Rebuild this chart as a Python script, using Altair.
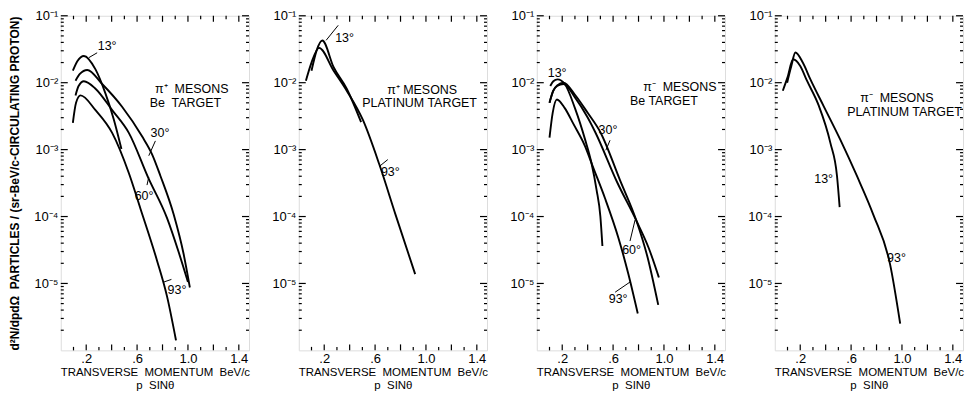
import altair as alt
import pandas as pd

FONT = "Liberation Sans"
W, H = 189, 336
X_DOMAIN = [0, 1.48]
Y_DOMAIN = [1e-6, 1e-1]

# ---------------- curve data ----------------
# Panel 1: pi+ mesons, Be target
p1_13_x = [0.095, 0.13, 0.182, 0.273, 0.351, 0.417, 0.477]
p1_13_y = [0.0151, 0.0209, 0.0251, 0.0158, 0.00692, 0.00282, 0.00102]
p1_30_x = [0.116, 0.15, 0.208, 0.325, 0.482, 0.639, 0.718, 0.783, 0.888, 0.966, 1.015]
p1_30_y = [0.0107, 0.0135, 0.0155, 0.00955, 0.00437, 0.00158, 0.000851, 0.000407, 0.000107, 2.75e-5, 8.7e-6]
p1_60_x = [0.116, 0.14, 0.182, 0.273, 0.404, 0.535, 0.69, 0.835, 0.93, 1.0]
p1_60_y = [0.00646, 0.00891, 0.0105, 0.00813, 0.00389, 0.00178, 0.000372, 9.55e-5, 2.82e-5, 1.05e-5]
p1_93_x = [0.095, 0.12, 0.155, 0.273, 0.404, 0.535, 0.626, 0.757, 0.835, 0.906]
p1_93_y = [0.00251, 0.00501, 0.00646, 0.00389, 0.00178, 0.000447, 0.000132, 2.19e-5, 6.46e-6, 1.41e-6]

# Panel 2: pi+ mesons, platinum target
p2_13_x = [0.10, 0.14, 0.185, 0.274, 0.377, 0.49]
p2_13_y = [0.0151, 0.0302, 0.0427, 0.0170, 0.00813, 0.00257]
p2_93_x = [0.056, 0.10, 0.159, 0.274, 0.377, 0.505, 0.633, 0.762, 0.915]
p2_93_y = [0.0107, 0.0200, 0.0331, 0.0151, 0.00759, 0.00275, 0.000603, 0.000105, 1.38e-5]

# Panel 3: pi- mesons, Be target
p3_13_x = [0.106, 0.13, 0.163, 0.22, 0.30, 0.38, 0.43, 0.47, 0.50, 0.516]
p3_13_y = [0.00891, 0.0105, 0.0112, 0.00955, 0.00417, 0.00141, 0.000631, 0.000251, 0.0001, 3.63e-5]
p3_30_x = [0.10, 0.13, 0.16, 0.21, 0.30, 0.40, 0.50, 0.655, 0.785, 0.87, 0.955]
p3_30_y = [0.00501, 0.00759, 0.00912, 0.0100, 0.00661, 0.00355, 0.00182, 0.000347, 8.51e-5, 2.51e-5, 4.79e-6]
p3_60_x = [0.10, 0.13, 0.16, 0.21, 0.30, 0.40, 0.46, 0.63, 0.785, 0.88, 0.96]
p3_60_y = [0.00501, 0.00759, 0.00891, 0.00955, 0.00603, 0.00302, 0.00182, 0.000331, 8.51e-5, 3.39e-5, 1.23e-5]
p3_93_x = [0.10, 0.125, 0.158, 0.22, 0.289, 0.38, 0.44, 0.537, 0.642, 0.72, 0.794]
p3_93_y = [0.00151, 0.00355, 0.00562, 0.00417, 0.0024, 0.00112, 0.000562, 0.000186, 4.79e-5, 1.38e-5, 3.55e-6]

# Panel 4: pi- mesons, platinum target
p4_13_x = [0.063, 0.10, 0.144, 0.20, 0.253, 0.345, 0.437, 0.489, 0.51]
p4_13_y = [0.00759, 0.012, 0.0224, 0.0178, 0.0107, 0.00457, 0.00126, 0.000407, 0.000138]
p4_93_x = [0.097, 0.13, 0.162, 0.22, 0.28, 0.384, 0.515, 0.645, 0.776, 0.907, 0.986]
p4_93_y = [0.01, 0.0178, 0.0282, 0.02, 0.0112, 0.00447, 0.00141, 0.000407, 0.000105, 1.91e-5, 2.51e-6]

# ---------------- annotation text ----------------
p1_text = ["13°", "30°", "60°", "93°", "π⁺\u00a0 MESONS", "Be\u00a0 TARGET"]
p1_text_x = [0.365, 0.78, 0.655, 0.914, 1.03, 0.98]
p1_text_y = [0.035, 0.0018, 0.0002, 8.1e-6, 0.0081, 0.0050]

p2_text = ["13°", "93°", "π⁺ MESONS", "PLATINUM TARGET"]
p2_text_x = [0.36, 0.72, 0.97, 0.95]
p2_text_y = [0.046, 0.000457, 0.0079, 0.0049]

p3_text = ["13°", "30°", "60°", "93°", "π⁻\u00a0 MESONS", "Be TARGET"]
p3_text_x = [0.16, 0.56, 0.745, 0.64, 1.125, 1.0]
p3_text_y = [0.0138, 0.00195, 3.2e-5, 5.9e-6, 0.0087, 0.0054]

p4_text = ["13°", "93°", "π⁻\u00a0 MESONS", "PLATINUM TARGET"]
p4_text_x = [0.384, 0.957, 0.96, 1.02]
p4_text_y = [0.00036, 2.4e-5, 0.0060, 0.0037]

# leader strokes from angle labels to their curves (x, y) -> (x2, y2)
p1_lead_x = [0.286, 0.744, 0.678, 0.87]
p1_lead_y = [0.028, 0.00135, 0.000295, 1.15e-5]
p1_lead_x2 = [0.221, 0.692, 0.692, 0.81]
p1_lead_y2 = [0.0237, 0.00081, 0.00039, 1.05e-5]

p2_lead_x = [0.31, 0.70]
p2_lead_y = [0.072, 0.00071]
p2_lead_x2 = [0.215, 0.633]
p2_lead_y2 = [0.043, 0.00056]

p3_lead_x = [0.576, 0.733, 0.616]
p3_lead_y = [0.00138, 4.3e-5, 7.4e-6]
p3_lead_x2 = [0.543, 0.773, 0.733]
p3_lead_y2 = [0.00098, 8.9e-5, 1.05e-5]

p4_lead_x, p4_lead_y, p4_lead_x2, p4_lead_y2 = [], [], [], []

# ---------------- axis ticks ----------------
X_LABEL_VALUES = [0.2, 0.4, 0.6, 0.8, 1.0, 1.2, 1.4]
X_MINOR_VALUES = [0.1, 0.3, 0.5, 0.7, 0.9, 1.1, 1.3]
Y_LABEL_VALUES = [1e-1, 1e-2, 1e-3, 1e-4, 1e-5]
DECADES = [-6, -5, -4, -3, -2]
Y_MINOR_VALUES = [m * 10.0 ** d for d in DECADES for m in range(2, 10)]

x_major = pd.DataFrame({"x": X_LABEL_VALUES})
x_minor = pd.DataFrame({"x": X_MINOR_VALUES})
y_major = pd.DataFrame({"y": Y_LABEL_VALUES})
y_minor = pd.DataFrame({"y": Y_MINOR_VALUES})


def curve_df(items):
    rows = []
    for name, xs, ys in items:
        for i, (a, b) in enumerate(zip(xs, ys)):
            rows.append({"curve": name, "x": a, "y": b, "order": i})
    return pd.DataFrame(rows)


def text_df(t, xs, ys):
    return pd.DataFrame({"text": t, "x": xs, "y": ys})


def lead_df(x, y, x2, y2):
    return pd.DataFrame({"x": x, "y": y, "x2": x2, "y2": y2})


Y_LABEL_EXPR = "'10' + ['⁻¹','⁻²','⁻³','⁻⁴','⁻⁵','⁻⁶'][round(-log(datum.value)/LN10)-1]"
X_LABEL_EXPR = "datum.value < 1 ? replace(format(datum.value, '.1f'), '0.', '.') : format(datum.value, '.1f')"


def panel(curves, labels, leads, first):
    xs = alt.Scale(domain=X_DOMAIN, nice=False, zero=False)
    ys = alt.Scale(type="log", domain=Y_DOMAIN, nice=False)
    x_axis = alt.Axis(values=X_LABEL_VALUES, labelExpr=X_LABEL_EXPR, ticks=False, domain=False,
                      grid=False, labelPadding=2, labelFontSize=13,
                      title=["TRANSVERSE\u00a0 MOMENTUM\u00a0 BeV/c", "p\u00a0 SINθ"],
                      titleFontSize=11.5, titleFontWeight="normal", titlePadding=1,
                      titleLineHeight=13.5)
    common_y = dict(values=Y_LABEL_VALUES, labelExpr=Y_LABEL_EXPR, ticks=False, domain=False,
                    grid=False, labelPadding=3, labelFontSize=13, minExtent=30, maxExtent=30)
    if first:
        y_axis = alt.Axis(title="d²N/dpdΩ\u00a0 PARTICLES / (sr-BeV/c-CIRCULATING PROTON)",
                          titleFontSize=12, titleFontWeight="bold", titlePadding=9, **common_y)
    else:
        y_axis = alt.Axis(title=None, **common_y)

    lines = alt.Chart(curves).mark_line(color="black", strokeWidth=1.9, interpolate="monotone").encode(
        x=alt.X("x:Q", scale=xs, axis=x_axis),
        y=alt.Y("y:Q", scale=ys, axis=y_axis),
        detail="curve:N",
        order="order:Q",
    )
    texts = alt.Chart(labels).mark_text(font=FONT, fontSize=12.5, color="black").encode(
        x="x:Q", y="y:Q", text="text:N"
    )
    layers = [lines, texts]
    if len(leads):
        layers.append(alt.Chart(leads).mark_rule(color="black", strokeWidth=1).encode(
            x="x:Q", y="y:Q", x2="x2:Q", y2="y2:Q"))
    rs = dict(color="black", strokeWidth=1.2)
    for df, ln in ((x_major, 6), (x_minor, 3.5)):
        layers.append(alt.Chart(df).mark_rule(**rs).encode(
            x="x:Q", y=alt.value(H), y2=alt.value(H - ln)))
        layers.append(alt.Chart(df).mark_rule(**rs).encode(
            x="x:Q", y=alt.value(0), y2=alt.value(ln)))
    for df, ln in ((y_major, 7), (y_minor, 3)):
        layers.append(alt.Chart(df).mark_rule(**rs).encode(
            y="y:Q", x=alt.value(0), x2=alt.value(ln)))
        layers.append(alt.Chart(df).mark_rule(**rs).encode(
            y="y:Q", x=alt.value(W), x2=alt.value(W - ln)))
    return alt.layer(*layers).properties(width=W, height=H)


c1 = panel(curve_df([("13", p1_13_x, p1_13_y), ("30", p1_30_x, p1_30_y),
                     ("60", p1_60_x, p1_60_y), ("93", p1_93_x, p1_93_y)]),
           text_df(p1_text, p1_text_x, p1_text_y),
           lead_df(p1_lead_x, p1_lead_y, p1_lead_x2, p1_lead_y2), True)
c2 = panel(curve_df([("13", p2_13_x, p2_13_y), ("93", p2_93_x, p2_93_y)]),
           text_df(p2_text, p2_text_x, p2_text_y),
           lead_df(p2_lead_x, p2_lead_y, p2_lead_x2, p2_lead_y2), False)
c3 = panel(curve_df([("13", p3_13_x, p3_13_y), ("30", p3_30_x, p3_30_y),
                     ("60", p3_60_x, p3_60_y), ("93", p3_93_x, p3_93_y)]),
           text_df(p3_text, p3_text_x, p3_text_y),
           lead_df(p3_lead_x, p3_lead_y, p3_lead_x2, p3_lead_y2), False)
c4 = panel(curve_df([("13", p4_13_x, p4_13_y), ("93", p4_93_x, p4_93_y)]),
           text_df(p4_text, p4_text_x, p4_text_y),
           lead_df(p4_lead_x, p4_lead_y, p4_lead_x2, p4_lead_y2), False)

chart = alt.hconcat(c1, c2, c3, c4, spacing=50, bounds="flush").properties(padding=0).configure_view(
    stroke="black", strokeWidth=1.3
).configure_axis(
    labelFont=FONT, titleFont=FONT, labelColor="black", titleColor="black"
).configure(background="white")

chart.save("out.html", embed_options={"renderer": "svg", "actions": False})
